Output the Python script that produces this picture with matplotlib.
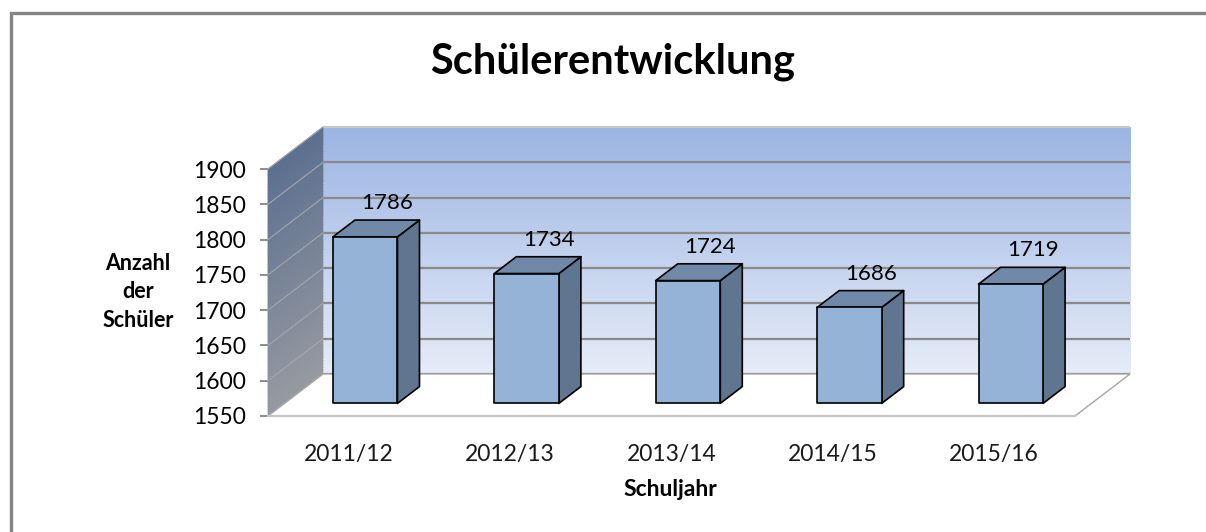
import numpy as np
import matplotlib.pyplot as plt
from matplotlib.patches import Polygon
from matplotlib.lines import Line2D
from matplotlib.colors import to_rgb

plt.rcParams['font.family'] = ['Lato', 'DejaVu Sans']

# --- data ---
years = ['2011/12', '2012/13', '2013/14', '2014/15', '2015/16']
students = [1786, 1734, 1724, 1686, 1719]
y_ticks = [1550, 1600, 1650, 1700, 1750, 1800, 1850, 1900]

title = 'Schülerentwicklung'
x_label = 'Schuljahr'
y_label = 'Anzahl\nder\nSchüler'

# --- layout (pixels at dpi 100) ---
W, H = 1206, 532
fig = plt.figure(figsize=(W / 100, H / 100), dpi=100)
ax = fig.add_axes([268 / W, 116 / H, 807 / W, 247 / H])
ax.set_xlim(0, len(years))
ax.set_ylim(y_ticks[0], y_ticks[-1])
for s in ax.spines.values():
    s.set_visible(False)
ax.patch.set_visible(False)

# oblique depth offset, 55 px right / 42 px up for the full depth
px_per_x = 807 / len(years)
px_per_y = 247 / (y_ticks[-1] - y_ticks[0])
DX = 55 / px_per_x
DY = 42 / px_per_y


def P(x, y, f):
    return (x + DX * f, y + DY * f)


def poly(pts, **kw):
    p = Polygon(pts, closed=True, clip_on=False, **kw)
    ax.add_patch(p)
    return p


def mix(c0, c1, t):
    c0, c1 = np.array(to_rgb(c0)), np.array(to_rgb(c1))
    return tuple(c0 + (c1 - c0) * t)


x0, x1 = 0, len(years)
ylo, yhi = y_ticks[0], y_ticks[-1]

# back wall + left wall gradients (thin strips, edge = face to hide seams)
n = 80
levels = np.linspace(ylo, yhi, n + 1)
for i in range(n):
    t = (i + 0.5) / n
    a, b = levels[i], levels[i + 1]
    c = mix('#e6ecf7', '#9bb4e2', t)
    poly([P(x0, a, 1), P(x1, a, 1), P(x1, b, 1), P(x0, b, 1)],
         facecolor=c, edgecolor=c, lw=0.6, zorder=1)
    c = mix('#979aa0', '#5b6f8f', t)
    poly([P(x0, a, 0), P(x0, a, 1), P(x0, b, 1), P(x0, b, 0)],
         facecolor=c, edgecolor=c, lw=0.6, zorder=1)

# gridlines
for t in y_ticks:
    xs, ys = zip(P(x0, t, 1), P(x1, t, 1))
    ax.plot(xs, ys, color='#8a8a8a' if t != yhi else '#c8c8c8', lw=1.6,
            clip_on=False, zorder=2, solid_capstyle='butt')
    xs, ys = zip(P(x0, t, 0), P(x0, t, 1))
    ax.plot(xs, ys, color='#a3a7ad', lw=0.8, clip_on=False, zorder=2)

# floor
poly([P(x0, ylo, 0), P(x1, ylo, 0), P(x1, ylo, 1), P(x0, ylo, 1)],
     facecolor='white', edgecolor='#a6a6a6', lw=1.0, zorder=3)
ax.plot([x0, x1], [ylo, ylo], color='#c4c4c4', lw=1.6, clip_on=False, zorder=3)

# bars
w = 0.2
f0, f1 = 0.3, 0.7
for i, v in enumerate(students):
    xc = i + 0.5
    kw = dict(edgecolor='black', lw=1.2, zorder=4, joinstyle='round')
    poly([P(xc + w, ylo, f0), P(xc + w, ylo, f1), P(xc + w, v, f1), P(xc + w, v, f0)],
         facecolor='#5f7590', **kw)
    poly([P(xc - w, v, f0), P(xc + w, v, f0), P(xc + w, v, f1), P(xc - w, v, f1)],
         facecolor='#7189a8', **kw)
    poly([P(xc - w, ylo, f0), P(xc + w, ylo, f0), P(xc + w, v, f0), P(xc - w, v, f0)],
         facecolor='#95b3d7', **kw)
    ax.annotate(str(v), xy=P(xc, v, f1), xytext=(0, 5), textcoords='offset points',
                ha='center', va='bottom', fontsize=16, color='black',
                annotation_clip=False, zorder=5)

# axes ticks
ax.set_yticks(y_ticks)
ax.set_yticklabels([str(t) for t in y_ticks])
ax.tick_params(axis='y', length=6, width=1.4, color='#8c8c8c', pad=10, labelsize=16.5)
ax.set_xticks([i + 0.5 for i in range(len(years))])
ax.set_xticklabels(years)
ax.tick_params(axis='x', length=0, pad=20, labelsize=16.5, labelcolor='#1a1a1a')

fig.text(613 / W, 1 - 62 / H, title, ha='center', va='center',
         fontsize=30, fontweight='bold')
fig.text(670 / W, 1 - 489 / H, x_label, ha='center', va='center',
         fontsize=16.5, fontweight='bold')
fig.text(138 / W, 1 - 292 / H, y_label, ha='center', va='center',
         fontsize=15.5, fontweight='bold', linespacing=1.45, multialignment='center')

# chart frame
fig.add_artist(Line2D([11 / W, 11 / W, 1], [0, 1 - 12.5 / H, 1 - 12.5 / H],
                      transform=fig.transFigure, color='#858585', lw=2.4,
                      solid_capstyle='butt', solid_joinstyle='miter'))

fig.savefig('out.png', dpi=100, facecolor='white')
